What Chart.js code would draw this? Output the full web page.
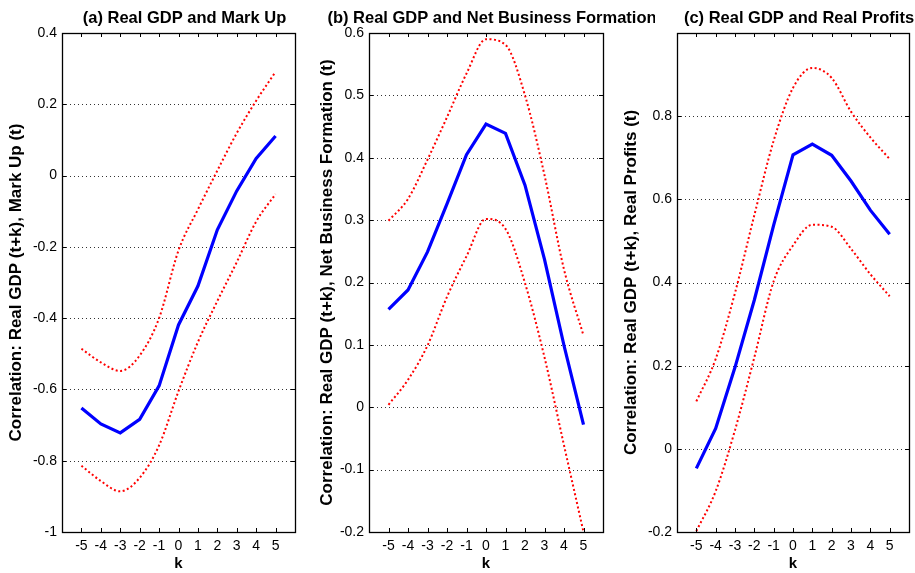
<!DOCTYPE html>
<html>
<head>
<meta charset="utf-8">
<script src="https://cdn.jsdelivr.net/npm/chart.js@4.4.1/dist/chart.umd.min.js"></script>
<style>
  html, body { margin: 0; padding: 0; background: #fff; }
  #wrap { position: relative; width: 915px; height: 573px; overflow: hidden; }
  #wrap canvas { position: absolute; top: 0; }
</style>
</head>
<body>
<div id="wrap">
  <canvas id="chartA" width="305" height="573" style="left:0px"></canvas>
  <canvas id="chartB" width="350" height="573" style="left:305px"></canvas>
  <canvas id="chartC" width="305" height="573" style="left:610px"></canvas>
</div>
<script>
// lags k
const kValues = [-5, -4, -3, -2, -1, 0, 1, 2, 3, 4, 5];

// (a) mark up
const markupMid   = [-0.652, -0.697, -0.722, -0.684, -0.590, -0.419, -0.310, -0.152, -0.043, 0.048, 0.111];
const markupUpper = [-0.486, -0.524, -0.548, -0.505, -0.400, -0.210, -0.095, 0.014, 0.119, 0.210, 0.291];
const markupLower = [-0.814, -0.857, -0.886, -0.848, -0.757, -0.605, -0.467, -0.352, -0.243, -0.129, -0.052];

// (b) net business formation
const nbfMid   = [0.157, 0.188, 0.249, 0.326, 0.405, 0.454, 0.439, 0.356, 0.237, 0.099, -0.028];
const nbfUpper = [0.299, 0.334, 0.397, 0.465, 0.535, 0.590, 0.581, 0.500, 0.372, 0.221, 0.115];
const nbfLower = [0.004, 0.044, 0.099, 0.177, 0.242, 0.302, 0.286, 0.199, 0.080, -0.061, -0.200];

// (c) real profits
const profitMid   = [-0.047, 0.049, 0.196, 0.358, 0.538, 0.707, 0.733, 0.706, 0.644, 0.574, 0.516];
const profitUpper = [0.114, 0.216, 0.375, 0.562, 0.741, 0.868, 0.916, 0.892, 0.811, 0.749, 0.697];
const profitLower = [-0.198, -0.102, 0.045, 0.220, 0.403, 0.489, 0.539, 0.534, 0.481, 0.420, 0.367];

const FONT = '"Liberation Sans", Arial, Helvetica, sans-serif';

// box, inward ticks and dotted grid like matlab
const matlabAxes = {
    id: 'matlabAxes',
    beforeDatasetsDraw(chart) {
        const { ctx, chartArea: a, scales: { y } } = chart;
        ctx.save();
        ctx.strokeStyle = '#333';
        ctx.lineWidth = 1;
        ctx.setLineDash([1, 3]);
        y.ticks.forEach(t => {
            if (t.value <= y.min + 1e-9 || t.value >= y.max - 1e-9) return;
            const py = Math.round(y.getPixelForValue(t.value)) + 0.5;
            ctx.beginPath();
            ctx.moveTo(a.left, py);
            ctx.lineTo(a.right, py);
            ctx.stroke();
        });
        ctx.restore();
    },
    afterDatasetsDraw(chart) {
        const { ctx, chartArea: a, scales: { x, y } } = chart;
        ctx.save();
        ctx.strokeStyle = '#000';
        ctx.lineWidth = 1.3;
        ctx.strokeRect(Math.round(a.left) + 0.5, Math.round(a.top) + 0.5, Math.round(a.right - a.left), Math.round(a.bottom - a.top));
        ctx.lineWidth = 1;
        const len = 4;
        x.ticks.forEach(t => {
            if (Math.abs(t.value) > 5) return;
            const px = Math.round(x.getPixelForValue(t.value)) + 0.5;
            ctx.beginPath();
            ctx.moveTo(px, a.bottom); ctx.lineTo(px, a.bottom - len);
            ctx.moveTo(px, a.top); ctx.lineTo(px, a.top + len);
            ctx.stroke();
        });
        y.ticks.forEach(t => {
            const py = Math.round(y.getPixelForValue(t.value)) + 0.5;
            ctx.beginPath();
            ctx.moveTo(a.left, py); ctx.lineTo(a.left + len, py);
            ctx.moveTo(a.right, py); ctx.lineTo(a.right - len, py);
            ctx.stroke();
        });
        // panel title
        const title = chart.options.plugins.panelTitle.text;
        ctx.fillStyle = '#000';
        ctx.font = 'bold 16.5px ' + FONT;
        ctx.textAlign = 'center';
        ctx.textBaseline = 'middle';
        ctx.fillText(title, (a.left + a.right) / 2 + 6, 18);
        ctx.restore();
    }
};

function toPoints(vals) {
    return kValues.map((k, i) => ({ x: k, y: vals[i] }));
}

function fmtTick(v, hideAbove) {
    if (hideAbove !== undefined && v > hideAbove) return '';
    return String(Number(v.toFixed(1)));
}

function makePanel(id, cfg) {
    const ctx = document.getElementById(id).getContext('2d');
    return new Chart(ctx, {
        type: 'line',
        data: {
            datasets: [
                { data: toPoints(cfg.upper), borderColor: '#ff0000', borderWidth: 2, borderDash: [2, 2.5], pointRadius: 0, cubicInterpolationMode: 'monotone', fill: false },
                { data: toPoints(cfg.lower), borderColor: '#ff0000', borderWidth: 2, borderDash: [2, 2.5], pointRadius: 0, cubicInterpolationMode: 'monotone', fill: false },
                { data: toPoints(cfg.mid), borderColor: '#0000ff', borderWidth: 3.2, pointRadius: 0, tension: 0, fill: false }
            ]
        },
        options: {
            responsive: false,
            animation: false,
            events: [],
            layout: { padding: { top: 33, right: cfg.padRight, bottom: 0, left: 0 } },
            plugins: {
                legend: { display: false },
                tooltip: { enabled: false },
                panelTitle: { text: cfg.title }
            },
            scales: {
                x: {
                    type: 'linear', min: -6, max: 6,
                    grid: { display: false, drawTicks: false },
                    border: { display: false },
                    ticks: {
                        stepSize: 1, autoSkip: false, maxRotation: 0, padding: 6,
                        color: '#000', font: { family: FONT, size: 14 },
                        callback: v => Math.abs(v) > 5 ? '' : String(v)
                    },
                    title: { display: true, text: 'k', color: '#000', padding: 0, font: { family: FONT, size: 15, weight: 'bold' } },
                    afterFit: s => { s.height = 41; }
                },
                y: {
                    min: cfg.yMin, max: cfg.yMax,
                    grid: { display: false, drawTicks: false },
                    border: { display: false },
                    ticks: {
                        stepSize: cfg.yStep, padding: 5,
                        color: '#000', font: { family: FONT, size: 14 },
                        callback: v => fmtTick(v, cfg.hideAbove)
                    },
                    title: { display: true, text: cfg.yTitle, color: '#000', padding: { top: cfg.yTitlePad, bottom: 0 }, font: { family: FONT, size: 17, weight: 'bold' } },
                    afterFit: s => { s.width = cfg.yAxisWidth; }
                }
            }
        },
        plugins: [matlabAxes]
    });
}

makePanel('chartA', {
    title: '(a) Real GDP and Mark Up',
    yTitle: 'Correlation: Real GDP (t+k), Mark Up (t)',
    mid: markupMid, upper: markupUpper, lower: markupLower,
    yMin: -1, yMax: 0.4, yStep: 0.2,
    yAxisWidth: 62, padRight: 10, yTitlePad: 6
});

makePanel('chartB', {
    title: '(b) Real GDP and Net Business Formation',
    yTitle: 'Correlation: Real GDP (t+k), Net Business Formation (t)',
    mid: nbfMid, upper: nbfUpper, lower: nbfLower,
    yMin: -0.2, yMax: 0.6, yStep: 0.1,
    yAxisWidth: 64, padRight: 52, yTitlePad: 12
});

makePanel('chartC', {
    title: '(c) Real GDP and Real Profits',
    yTitle: 'Correlation: Real GDP (t+k), Real Profits (t)',
    mid: profitMid, upper: profitUpper, lower: profitLower,
    yMin: -0.2, yMax: 1.0, yStep: 0.2, hideAbove: 0.9,
    yAxisWidth: 67, padRight: 5, yTitlePad: 11
});
</script>
</body>
</html>
